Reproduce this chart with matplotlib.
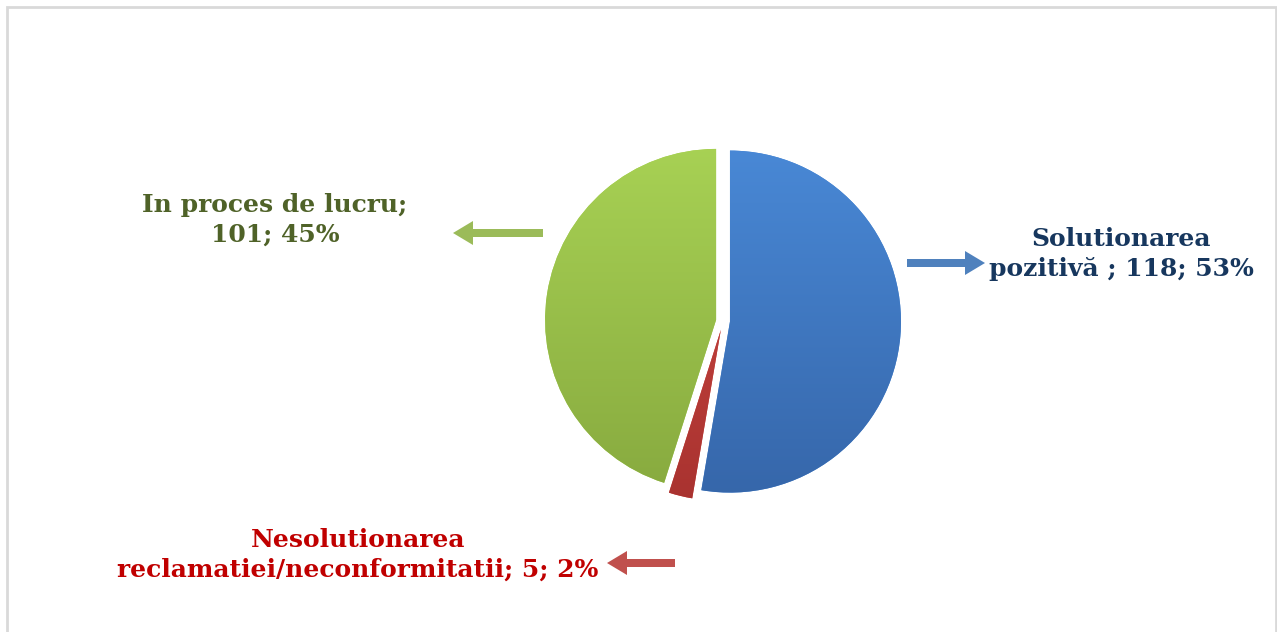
import matplotlib.pyplot as plt
import numpy as np
from matplotlib.colors import LinearSegmentedColormap
from matplotlib.patches import FancyArrow, Rectangle

# data
categories = ['Solutionarea\npozitivă ;', 'Nesolutionarea\nreclamatiei/neconformitatii;', 'In proces de lucru;\n']
counts = [118, 5, 101]
colors_light = ['#4a8ad8', '#d04a45', '#a9d355']
colors_dark = ['#3565a8', '#a8322f', '#86a83e']
text_colors = ['#17375e', '#c00000', '#4f6228']
arrow_colors = ['#4f81bd', '#c0504d', '#9bbb59']

W, H = 1277, 632
fig = plt.figure(figsize=(W / 100, H / 100), dpi=100)
ax = fig.add_axes([0, 0, 1, 1])
ax.set_xlim(0, W)
ax.set_ylim(0, H)
ax.set_aspect('equal')
ax.axis('off')

# outer frame (bottom edge is cut off in the original)
fig.patches.append(Rectangle((7 / W, -0.1), (W - 8.5) / W, (H - 7) / H + 0.1,
                             transform=fig.transFigure, fill=False,
                             edgecolor='#d9d9d9', linewidth=2))

cx, cy, r = 723, H - 321, 171
# explode is in data units (pixels here)
wedges, _ = ax.pie(counts, startangle=90, counterclock=False, center=(cx, cy),
                   radius=r, explode=[7, 9, 7],
                   colors=colors_light, wedgeprops=dict(linewidth=0))
ax.set_xlim(0, W)
ax.set_ylim(0, H)

# simple top-to-bottom shading on each slice
grad = np.linspace(0, 1, 256).reshape(-1, 1)
for w, c1, c2 in zip(wedges, colors_light, colors_dark):
    cmap = LinearSegmentedColormap.from_list('g', [c1, c2])
    im = ax.imshow(grad, cmap=cmap, aspect='auto', origin='upper',
                   extent=[cx - r - 20, cx + r + 20, cy - r - 20, cy + r + 20], zorder=2)
    im.set_clip_path(w)

total = sum(counts)
pct = [round(c / total * 100) for c in counts]
texts = [
    f'{categories[0]} {counts[0]}; {pct[0]}%',
    f'{categories[1]} {counts[1]}; {pct[1]}%',
    f'{categories[2]}{counts[2]}; {pct[2]}%',
]
text_pos = [(1121, 254), (358, 555), (275, 220)]
for t, (x, y), c in zip(texts, text_pos, text_colors):
    ax.text(x, H - y, t, ha='center', va='center', color=c, fontsize=18,
            fontweight='bold', family='DejaVu Serif', linespacing=1.3, zorder=5)

# arrows pointing towards the labels
arrows = [((907, 263), (985, 263)), ((675, 563), (607, 563)), ((543, 233), (453, 233))]
for ((x0, y0), (x1, y1)), c in zip(arrows, arrow_colors):
    ax.add_patch(FancyArrow(x0, H - y0, x1 - x0, 0, width=8, head_width=24,
                            head_length=20, length_includes_head=True,
                            color=c, linewidth=0, zorder=4))

fig.savefig('out.png', dpi=100)
